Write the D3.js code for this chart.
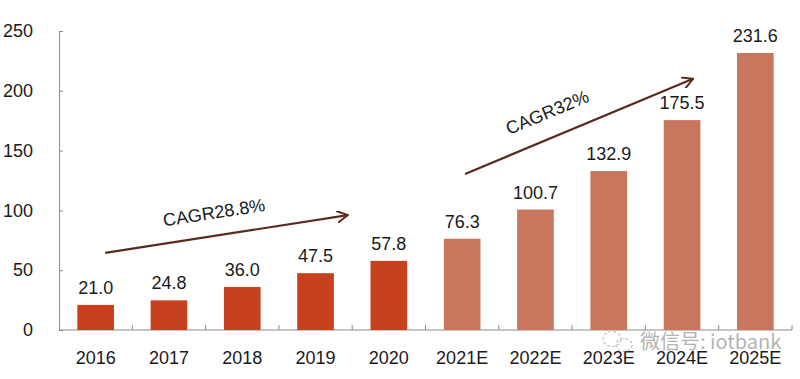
<!DOCTYPE html>
<html>
<head>
<meta charset="utf-8">
<script src="https://cdn.jsdelivr.net/npm/d3@7"></script>
<style>
  body { margin: 0; background: #fff; }
  svg { display: block; font-family: "Liberation Sans", Arial, sans-serif; }
</style>
</head>
<body>
<div id="chart"></div>
<script>
const years = ["2016", "2017", "2018", "2019", "2020", "2021E", "2022E", "2023E", "2024E", "2025E"]
const values = [21.0, 24.8, 36.0, 47.5, 57.8, 76.3, 100.7, 132.9, 175.5, 231.6]
const forecast = [false, false, false, false, false, true, true, true, true, true]
const yTicks = [0, 50, 100, 150, 200, 250]
// growth arrows, positions in category units / value units
const arrows = [
  { x0: 0.63, v0: 64.5, x1: 3.94, v1: 96, label: "CAGR28.8%", along: -9, up: 17 },
  { x0: 5.54, v0: 130.5, x1: 8.65, v1: 210, label: "CAGR32%", along: -24, up: 19 }
]

const width = 800
const height = 379
const margin = { top: 31, right: 8, bottom: 49, left: 59 }
const innerW = width - margin.left - margin.right
const innerH = height - margin.top - margin.bottom

const svg = d3.select("#chart").append("svg")
  .attr("width", width).attr("height", height)

const g = svg.append("g").attr("transform", `translate(${margin.left},${margin.top})`)

const x = d3.scaleBand().domain(years).range([0, innerW]).paddingInner(0.5).paddingOuter(0.25)
const y = d3.scaleLinear().domain([0, 250]).range([innerH, 0])
// continuous position in category units for arrows
const xc = d3.scaleLinear().domain([0, years.length]).range([0, innerW])

// y axis
g.append("g")
  .call(d3.axisLeft(y).tickValues(yTicks).tickSizeInner(-4).tickSizeOuter(0).tickPadding(26))
  .call(g => g.select(".domain").attr("stroke", "#8c8c8c"))
  .call(g => g.selectAll(".tick line").attr("stroke", "#8c8c8c"))
  .call(g => g.selectAll(".tick text").attr("font-size", 18).attr("fill", "#1a1a1a").attr("font-family", "Liberation Sans, Arial"))

// x axis with ticks at band edges pointing up
const xAxis = g.append("g").attr("transform", `translate(0,${innerH})`)
xAxis.append("line").attr("x1", 0).attr("x2", innerW).attr("stroke", "#8c8c8c")
xAxis.selectAll("line.tk").data(d3.range(1, years.length + 1)).join("line")
  .attr("class", "tk")
  .attr("x1", d => xc(d)).attr("x2", d => xc(d))
  .attr("y1", 0).attr("y2", -5).attr("stroke", "#8c8c8c")
xAxis.selectAll("text").data(years).join("text")
  .attr("x", d => x(d) + x.bandwidth() / 2)
  .attr("y", 34)
  .attr("text-anchor", "middle")
  .attr("font-size", 18).attr("fill", "#1a1a1a")
  .text(d => d)

// bars
g.append("g").selectAll("rect").data(years).join("rect")
  .attr("x", d => x(d))
  .attr("y", (d, i) => y(values[i]))
  .attr("width", x.bandwidth())
  .attr("height", (d, i) => innerH - y(values[i]))
  .attr("fill", (d, i) => forecast[i] ? "#c8765e" : "#c8411f")

// value labels
g.append("g").selectAll("text").data(years).join("text")
  .attr("x", d => x(d) + x.bandwidth() / 2)
  .attr("y", (d, i) => y(values[i]) - 11)
  .attr("text-anchor", "middle")
  .attr("font-size", 18).attr("fill", "#1a1a1a")
  .text((d, i) => values[i].toFixed(1))

// arrows
svg.append("defs").append("marker")
  .attr("id", "head").attr("viewBox", "0 0 12 12").attr("refX", 11).attr("refY", 6)
  .attr("markerWidth", 12).attr("markerHeight", 12).attr("markerUnits", "userSpaceOnUse")
  .attr("orient", "auto")
  .append("path").attr("d", "M0,0 L11,6 L0,12").attr("fill", "none").attr("stroke", "#5b2a1f").attr("stroke-width", 2)

arrows.forEach(a => {
  const px0 = xc(a.x0), py0 = y(a.v0), px1 = xc(a.x1), py1 = y(a.v1)
  g.append("line")
    .attr("x1", px0).attr("y1", py0).attr("x2", px1).attr("y2", py1)
    .attr("stroke", "#5b2a1f").attr("stroke-width", 2.2)
    .attr("marker-end", "url(#head)")
  const ang = Math.atan2(py1 - py0, px1 - px0) * 180 / Math.PI
  const mx = (px0 + px1) / 2, my = (py0 + py1) / 2
  g.append("text")
    .attr("transform", `translate(${mx},${my}) rotate(${ang}) translate(${a.along},${-a.up})`)
    .attr("text-anchor", "middle")
    .attr("font-size", 18).attr("fill", "#1a1a1a")
    .text(a.label)
})

// watermark
const wm = svg.append("g").attr("opacity", 0.75)
wm.append("ellipse").attr("cx", 612).attr("cy", 339).attr("rx", 9).attr("ry", 7.5)
  .attr("fill", "none").attr("stroke", "#b0b0b0").attr("stroke-width", 1.2).attr("stroke-dasharray", "3,2")
wm.append("ellipse").attr("cx", 624).attr("cy", 345).attr("rx", 8).attr("ry", 6.5)
  .attr("fill", "none").attr("stroke", "#b0b0b0").attr("stroke-width", 1.2).attr("stroke-dasharray", "3,2")
wm.append("text")
  .attr("x", 640).attr("y", 349)
  .attr("font-family", "Noto Sans CJK SC, sans-serif")
  .attr("font-size", 20).attr("fill", "#9a9a9a")
  .text("微信号: iotbank")
</script>
</body>
</html>
